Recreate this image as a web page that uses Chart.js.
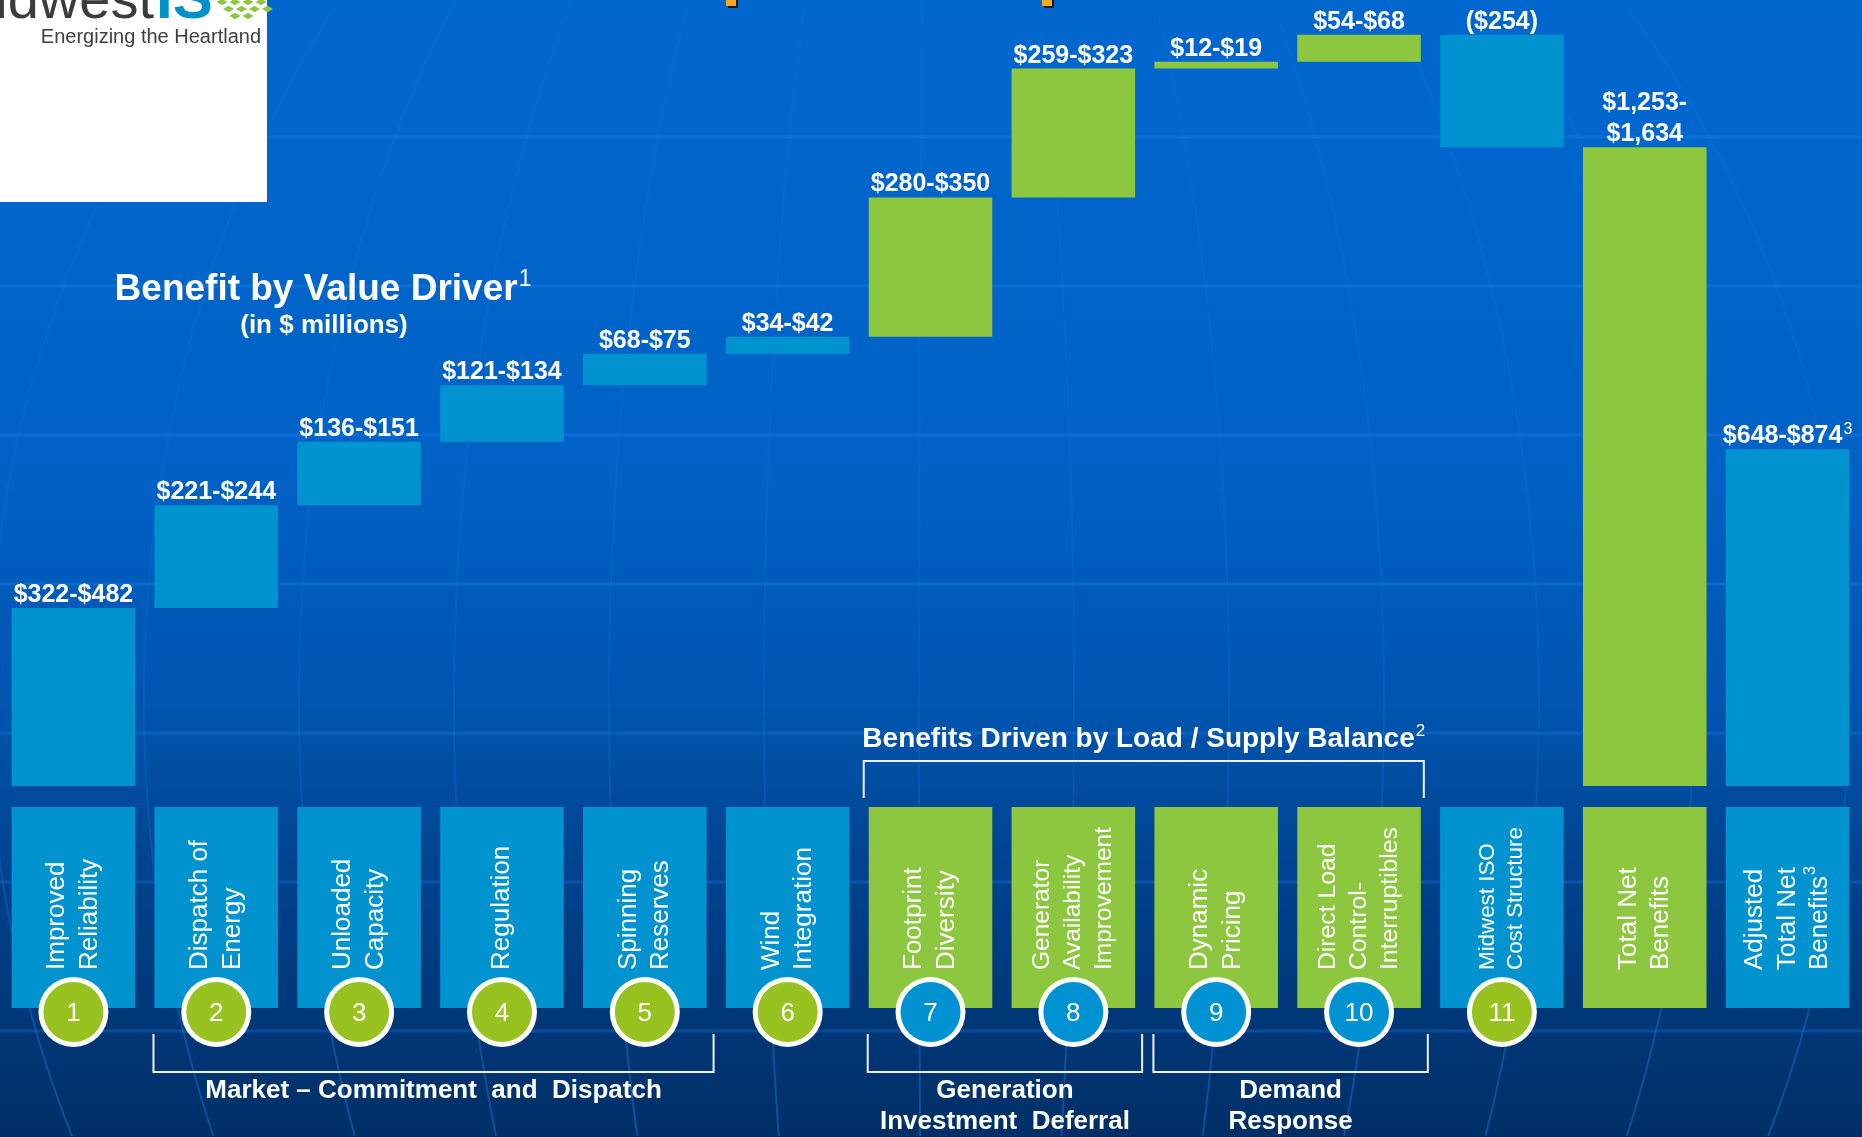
<!DOCTYPE html>
<html>
<head>
<meta charset="utf-8">
<title>Benefit by Value Driver</title>
<script src="https://cdn.jsdelivr.net/npm/chart.js@4.4.0/dist/chart.umd.min.js"></script>
<style>
  html, body { margin: 0; padding: 0; background: #0060c0; overflow: hidden; }
  #chart { display: block; }
</style>
</head>
<body>
<canvas id="chart" width="1862" height="1137"></canvas>
<script>
// Data ($ millions) - low / high end of each estimated range
const categories = [
  ['Improved', 'Reliability'],
  ['Dispatch of', 'Energy'],
  ['Unloaded', 'Capacity'],
  ['Regulation'],
  ['Spinning', 'Reserves'],
  ['Wind', 'Integration'],
  ['Footprint', 'Diversity'],
  ['Generator', 'Availability', 'Improvement'],
  ['Dynamic', 'Pricing'],
  ['Direct Load', 'Control-', 'Interruptibles'],
  ['Midwest ISO', 'Cost Structure'],
  ['Total Net', 'Benefits'],
  ['Adjusted', 'Total Net', 'Benefits^3']
];
const driverNumbers = ['1', '2', '3', '4', '5', '6', '7', '8', '9', '10', '11', '', ''];
const driverGroups = ['reliability', 'market', 'market', 'market', 'market', 'wind',
  'generation', 'generation', 'demand', 'demand', 'cost', 'total', 'adjusted'];
const barKinds = ['step', 'step', 'step', 'step', 'step', 'step', 'step', 'step', 'step', 'step', 'step', 'total', 'total'];
const lowValues = [322, 221, 136, 121, 68, 34, 280, 259, 12, 54, -254, 1253, 648];
const highValues = [482, 244, 151, 134, 75, 42, 350, 323, 19, 68, -254, 1634, 874];
const valueLabels = ['$322-$482', '$221-$244', '$136-$151', '$121-$134', '$68-$75', '$34-$42',
  '$280-$350', '$259-$323', '$12-$19', '$54-$68', '($254)', '$1,253-\n$1,634', '$648-$874^3'];

const brackets = [
  { lines: ['Market \u2013 Commitment  and  Dispatch'], from: 1, to: 4, side: 'below' },
  { lines: ['Generation', 'Investment  Deferral'], from: 6, to: 7, side: 'below' },
  { lines: ['Demand', 'Response'], from: 8, to: 9, side: 'below' },
  { lines: ['Benefits Driven by Load / Supply Balance^2'], from: 6, to: 9, side: 'above' }
];

// Styles
const FONT = '"Liberation Sans", Arial, Helvetica, sans-serif';
const BLUE = '#0093d0';
const GREEN = '#8dc63f';
const CIRCLE_GREEN = '#97c21f';
const CIRCLE_BLUE = '#0092d2';
const greenGroups = ['generation', 'demand', 'total'];

const isGreen = i => greenGroups.includes(driverGroups[i]);

// Waterfall: each driver floats on the running total (range midpoint)
let running = 0;
const floatingBars = lowValues.map((lo, i) => {
  const mid = (lo + highValues[i]) / 2;
  if (barKinds[i] === 'total') return [0, mid];
  const bar = [running, running + mid];
  running += mid;
  return bar;
});

// text with an optional ^superscript
function drawRich(ctx, text, x, y, size, weight, align) {
  const [main, sup] = text.split('^');
  ctx.font = `${weight} ${size}px ${FONT}`;
  const w1 = ctx.measureText(main).width;
  const supSize = Math.round(size * 0.62);
  let w2 = 0;
  if (sup) {
    ctx.font = `normal ${supSize}px ${FONT}`;
    w2 = ctx.measureText(sup).width + 1;
  }
  const left = align === 'center' ? x - (w1 + w2) / 2 : x;
  ctx.textAlign = 'left';
  ctx.font = `${weight} ${size}px ${FONT}`;
  ctx.fillText(main, left, y);
  if (sup) {
    ctx.font = `normal ${supSize}px ${FONT}`;
    ctx.fillText(sup, left + w1 + 1, y - size * 0.38);
  }
}

const backgroundPlugin = {
  id: 'slideBackground',
  beforeDraw(chart) {
    const { ctx, width, height } = chart;
    ctx.save();
    const grad = ctx.createLinearGradient(0, 0, 0, height);
    grad.addColorStop(0, '#0067cf');
    grad.addColorStop(0.4, '#0062c6');
    grad.addColorStop(0.62, '#0055b0');
    grad.addColorStop(0.78, '#00418c');
    grad.addColorStop(1, '#002f66');
    ctx.fillStyle = grad;
    ctx.fillRect(0, 0, width, height);

    // globe grid - latitudes
    ctx.strokeStyle = 'rgba(40,140,255,0.26)';
    ctx.lineWidth = 3;
    for (let y = 137; y < height; y += 149) {
      ctx.beginPath();
      ctx.moveTo(0, y);
      ctx.lineTo(width, y);
      ctx.stroke();
    }
    // globe grid - meridians, fading out towards the top
    const fade = ctx.createLinearGradient(0, 0, 0, height);
    fade.addColorStop(0, 'rgba(40,140,255,0.05)');
    fade.addColorStop(0.6, 'rgba(40,140,255,0.12)');
    fade.addColorStop(1, 'rgba(40,140,255,0.35)');
    ctx.strokeStyle = fade;
    ctx.lineWidth = 2;
    for (let k = -6; k <= 6; k++) {
      const d = -12 + 155 * k;
      ctx.beginPath();
      for (let y = 0; y <= height; y += 8) {
        const t = (y - 700) / 1062;
        const x = 931 + d * Math.sqrt(Math.max(0, 1 - t * t));
        if (y === 0) ctx.moveTo(x, y); else ctx.lineTo(x, y);
      }
      ctx.stroke();
    }

    // logo block
    ctx.fillStyle = '#ffffff';
    ctx.fillRect(0, 0, 267, 202);
    ctx.textBaseline = 'alphabetic';
    ctx.fillStyle = '#3c3c3c';
    ctx.textAlign = 'right';
    ctx.font = `56px ${FONT}`;
    ctx.fillText('Midwest', 154, 18);
    ctx.fillStyle = '#0090cc';
    ctx.textAlign = 'left';
    ctx.font = `bold 60px ${FONT}`;
    ctx.fillText('IS', 156, 18);
    ctx.fillStyle = GREEN;
    for (let r = 0; r < 3; r++) {
      for (let c = 0; c < 4; c++) {
        const cx = 222 + c * 13 + (r % 2) * 6.5 - (r === 2 ? 0 : 0);
        const cy = 2 + r * 7;
        if (r === 2 && (c === 0 || c === 3)) continue;
        ctx.beginPath();
        ctx.moveTo(cx, cy - 3.2);
        ctx.lineTo(cx + 5.5, cy);
        ctx.lineTo(cx, cy + 3.2);
        ctx.lineTo(cx - 5.5, cy);
        ctx.closePath();
        ctx.fill();
      }
    }
    ctx.fillStyle = '#404040';
    ctx.textAlign = 'right';
    ctx.font = `20px ${FONT}`;
    ctx.fillText('Energizing the Heartland', 261, 43);

    // remnants of the slide headline at the top edge
    [726, 1042].forEach(x => {
      ctx.fillStyle = '#1a1a1a';
      ctx.fillRect(x + 2, 0, 10, 8);
      ctx.fillStyle = '#f6a926';
      ctx.fillRect(x, 0, 10, 6);
    });

    // chart title
    ctx.fillStyle = '#ffffff';
    drawRich(ctx, 'Benefit by Value Driver^1', 323, 300, 37, 'bold', 'center');
    ctx.font = `bold 26px ${FONT}`;
    ctx.textAlign = 'center';
    ctx.fillText('(in $ millions)', 324, 333);
    ctx.restore();
  }
};

const valueLabelPlugin = {
  id: 'valueLabels',
  afterDatasetsDraw(chart) {
    const ctx = chart.ctx;
    const meta = chart.getDatasetMeta(0);
    ctx.save();
    ctx.fillStyle = '#ffffff';
    ctx.textBaseline = 'alphabetic';
    meta.data.forEach((bar, i) => {
      const { x, y, base } = bar.getProps(['x', 'y', 'base'], true);
      const top = Math.min(y, base);
      const lines = valueLabels[i].split('\n');
      lines.forEach((line, k) => {
        const baseline = top - 6 - (lines.length - 1 - k) * 31;
        drawRich(ctx, line, x, baseline, 25, 'bold', 'center');
      });
    });
    ctx.restore();
  }
};

const driverBoxPlugin = {
  id: 'driverBoxes',
  afterDatasetsDraw(chart) {
    const ctx = chart.ctx;
    const meta = chart.getDatasetMeta(0);
    const boxTop = 807, boxBottom = 1008, textStart = 970;
    const circleY = 1012, circleR = 35;
    const geom = meta.data.map(bar => bar.getProps(['x', 'width'], true));
    ctx.save();

    geom.forEach(({ x, width }, i) => {
      // label box
      ctx.fillStyle = isGreen(i) ? GREEN : BLUE;
      ctx.fillRect(x - width / 2, boxTop, width, boxBottom - boxTop);

      // rotated category text
      const lines = categories[i];
      ctx.font = `26px ${FONT}`;
      const longest = Math.max(...lines.map(l => ctx.measureText(l.replace('^', '')).width));
      const size = Math.min(26, 26 * 143 / longest);
      const step = size * 1.25;
      ctx.save();
      ctx.translate(x, textStart);
      ctx.rotate(-Math.PI / 2);
      ctx.fillStyle = '#ffffff';
      ctx.textBaseline = 'middle';
      lines.forEach((line, k) => {
        const off = (k - (lines.length - 1) / 2) * step;
        drawRich(ctx, line, 0, off, size, 'normal', 'left');
      });
      ctx.restore();

      // numbered circle
      if (driverNumbers[i]) {
        ctx.beginPath();
        ctx.arc(x, circleY, circleR, 0, Math.PI * 2);
        ctx.fillStyle = '#ffffff';
        ctx.fill();
        ctx.beginPath();
        ctx.arc(x, circleY, circleR - 5, 0, Math.PI * 2);
        ctx.fillStyle = isGreen(i) ? CIRCLE_BLUE : CIRCLE_GREEN;
        ctx.fill();
        ctx.fillStyle = '#ffffff';
        ctx.font = `26px ${FONT}`;
        ctx.textAlign = 'center';
        ctx.textBaseline = 'middle';
        ctx.fillText(driverNumbers[i], x, circleY + 2);
      }
    });

    // brackets and group captions
    ctx.strokeStyle = '#eef2f8';
    ctx.lineWidth = 2;
    ctx.fillStyle = '#ffffff';
    ctx.textBaseline = 'alphabetic';
    brackets.forEach(b => {
      const a = geom[b.from], z = geom[b.to];
      if (b.side === 'below') {
        const left = a.x - a.width / 2 - 1;
        const right = z.x + z.width / 2 + 7;
        ctx.beginPath();
        ctx.moveTo(left, 1034);
        ctx.lineTo(left, 1072);
        ctx.lineTo(right, 1072);
        ctx.lineTo(right, 1034);
        ctx.stroke();
        const cx = (left + right) / 2;
        b.lines.forEach((line, k) => {
          drawRich(ctx, line, cx, 1098 + k * 31, 26, 'bold', 'center');
        });
      } else {
        const left = a.x - a.width / 2 - 5;
        const right = z.x + z.width / 2 + 3;
        ctx.beginPath();
        ctx.moveTo(left, 798);
        ctx.lineTo(left, 761);
        ctx.lineTo(right, 761);
        ctx.lineTo(right, 798);
        ctx.stroke();
        drawRich(ctx, b.lines[0], (left + right) / 2, 747, 28, 'bold', 'center');
      }
    });
    ctx.restore();
  }
};

new Chart(document.getElementById('chart'), {
  type: 'bar',
  data: {
    labels: categories.map(c => c.join(' ').replace('^', '')),
    datasets: [{
      data: floatingBars,
      backgroundColor: categories.map((_, i) => isGreen(i) ? GREEN : BLUE),
      borderWidth: 0,
      barPercentage: 0.865,
      categoryPercentage: 1
    }]
  },
  options: {
    responsive: false,
    animation: false,
    layout: { padding: { left: 2, right: 3, top: 0, bottom: 0 } },
    plugins: {
      legend: { display: false },
      tooltip: { enabled: false },
      title: { display: false }
    },
    scales: {
      x: { display: false },
      y: { display: false, min: -793, max: 1776 }
    }
  },
  plugins: [backgroundPlugin, valueLabelPlugin, driverBoxPlugin]
});
</script>
</body>
</html>
